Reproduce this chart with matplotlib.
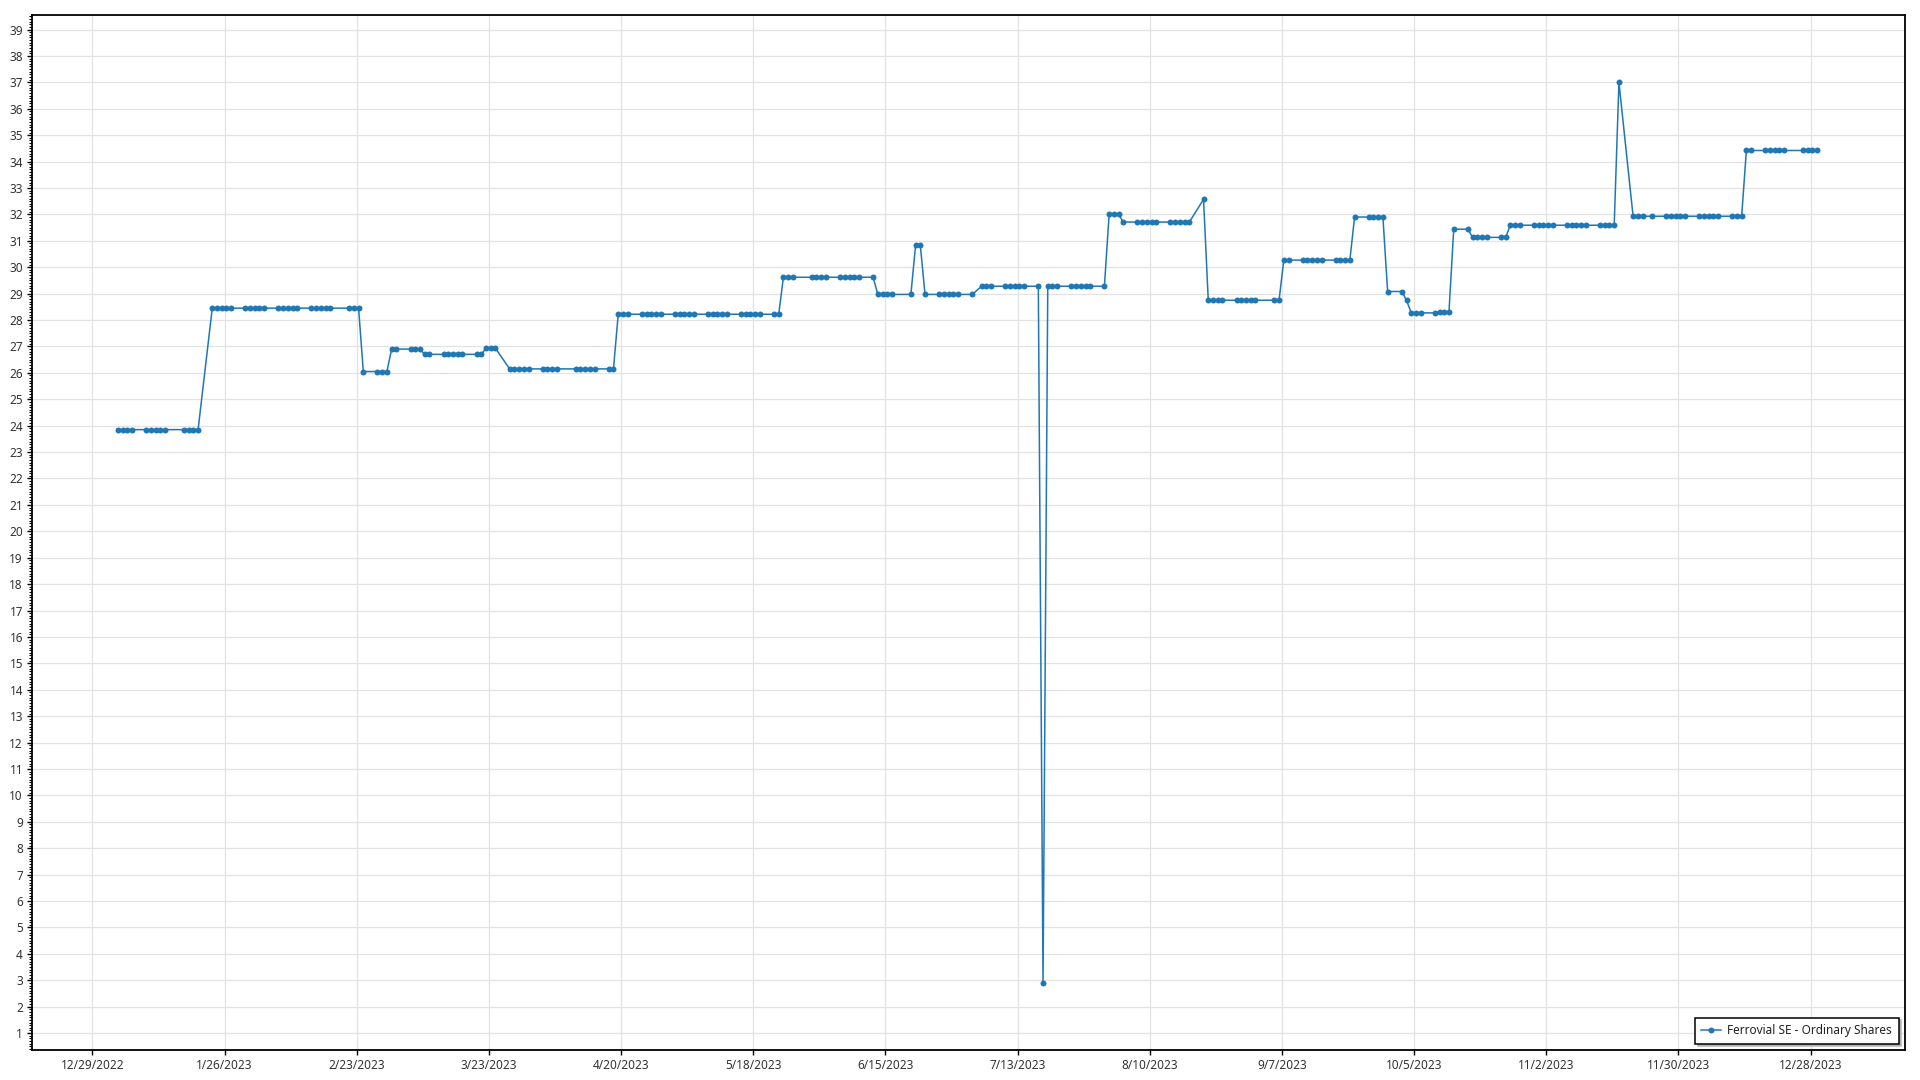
import matplotlib
matplotlib.use("Agg")
import matplotlib.pyplot as plt
from matplotlib.ticker import MultipleLocator
import pandas as pd

# ---------------- data (2023 trading days) ----------------
series_name = "Ferrovial SE - Ordinary Shares"
year = 2023

days_jan = [3, 4, 5, 6, 9, 10, 11, 12, 13, 17, 18, 19, 20, 23, 24, 25, 26, 27, 30, 31]
vals_jan = [23.85, 23.85, 23.85, 23.85, 23.85, 23.85, 23.85, 23.85, 23.85, 23.85, 23.85, 23.85, 23.85,
            28.45, 28.45, 28.45, 28.45, 28.45, 28.45, 28.45]

days_feb = [1, 2, 3, 6, 7, 8, 9, 10, 13, 14, 15, 16, 17, 21, 22, 23, 24, 27, 28]
vals_feb = [28.45, 28.45, 28.45, 28.45, 28.45, 28.45, 28.45, 28.45, 28.45, 28.45, 28.45, 28.45, 28.45,
            28.45, 28.45, 28.45, 26.05, 26.05, 26.05]

days_mar = [1, 2, 3, 6, 7, 8, 9, 10, 13, 14, 15, 16, 17, 20, 21, 22, 23, 24, 27, 28, 29, 30, 31]
vals_mar = [26.05, 26.90, 26.90, 26.90, 26.90, 26.90, 26.70, 26.70, 26.70, 26.70, 26.70, 26.70, 26.70,
            26.70, 26.70, 26.93, 26.93, 26.93, 26.15, 26.15, 26.15, 26.15, 26.15]

days_apr = [3, 4, 5, 6, 10, 11, 12, 13, 14, 17, 18, 19, 20, 21, 24, 25, 26, 27, 28]
vals_apr = [26.15, 26.15, 26.15, 26.15, 26.15, 26.15, 26.15, 26.15, 26.15, 26.15, 26.15,
            28.22, 28.22, 28.22, 28.22, 28.22, 28.22, 28.22, 28.22]

days_may = [1, 2, 3, 4, 5, 8, 9, 10, 11, 12, 15, 16, 17, 18, 19, 22, 23, 24, 25, 26, 30, 31]
vals_may = [28.22, 28.22, 28.22, 28.22, 28.22, 28.22, 28.22, 28.22, 28.22, 28.22, 28.22, 28.22, 28.22,
            28.22, 28.22, 28.22, 28.22, 29.62, 29.62, 29.62, 29.62, 29.62]

days_jun = [1, 2, 5, 6, 7, 8, 9, 12, 13, 14, 15, 16, 20, 21, 22, 23, 26, 27, 28, 29, 30]
vals_jun = [29.62, 29.62, 29.62, 29.62, 29.62, 29.62, 29.62, 29.62, 28.97, 28.97, 28.97, 28.97, 28.97,
            30.83, 30.83, 28.97, 28.97, 28.97, 28.97, 28.97, 28.97]

days_jul = [3, 5, 6, 7, 10, 11, 12, 13, 14, 17, 18, 19, 20, 21, 24, 25, 26, 27, 28, 31]
vals_jul = [28.97, 29.28, 29.28, 29.28, 29.28, 29.28, 29.28, 29.28, 29.28, 29.28, 2.91,
            29.28, 29.28, 29.28, 29.28, 29.28, 29.28, 29.28, 29.28, 29.28]

days_aug = [1, 2, 3, 4, 7, 8, 9, 10, 11, 14, 15, 16, 17, 18, 21, 22, 23, 24, 25, 28, 29, 30, 31]
vals_aug = [32.00, 32.00, 32.00, 31.71, 31.71, 31.71, 31.71, 31.71, 31.71, 31.71, 31.71, 31.71, 31.71,
            31.71, 32.57, 28.75, 28.75, 28.75, 28.75, 28.75, 28.75, 28.75, 28.75]

days_sep = [1, 5, 6, 7, 8, 11, 12, 13, 14, 15, 18, 19, 20, 21, 22, 25, 26, 27, 28, 29]
vals_sep = [28.75, 28.75, 28.75, 30.27, 30.27, 30.27, 30.27, 30.27, 30.27, 30.27, 30.27, 30.27, 30.27,
            30.27, 31.90, 31.90, 31.90, 31.90, 31.90, 29.08]

days_oct = [2, 3, 4, 5, 6, 9, 10, 11, 12, 13, 16, 17, 18, 19, 20, 23, 24, 25, 26, 27, 30, 31]
vals_oct = [29.08, 28.75, 28.27, 28.27, 28.27, 28.27, 28.31, 28.31, 28.31, 31.44, 31.44, 31.13, 31.13,
            31.13, 31.13, 31.13, 31.13, 31.59, 31.59, 31.59, 31.59, 31.59]

days_nov = [1, 2, 3, 6, 7, 8, 9, 10, 13, 14, 15, 16, 17, 20, 21, 22, 24, 27, 28, 29, 30]
vals_nov = [31.59, 31.59, 31.59, 31.59, 31.59, 31.59, 31.59, 31.59, 31.59, 31.59, 31.59, 31.59, 37.00,
            31.93, 31.93, 31.93, 31.93, 31.93, 31.93, 31.93, 31.93]

days_dec = [1, 4, 5, 6, 7, 8, 11, 12, 13, 14, 15, 18, 19, 20, 21, 22, 26, 27, 28, 29]
vals_dec = [31.93, 31.93, 31.93, 31.93, 31.93, 31.93, 31.93, 31.93, 31.93, 34.42, 34.42, 34.42, 34.42,
            34.42, 34.42, 34.42, 34.42, 34.42, 34.42, 34.42]

x_tick_labels = ["12/29/2022", "1/26/2023", "2/23/2023", "3/23/2023", "4/20/2023", "5/18/2023",
                 "6/15/2023", "7/13/2023", "8/10/2023", "9/7/2023", "10/5/2023", "11/2/2023",
                 "11/30/2023", "12/28/2023"]
y_ticks = list(range(1, 40))

# ---------------- assemble ----------------
month_days = [days_jan, days_feb, days_mar, days_apr, days_may, days_jun,
              days_jul, days_aug, days_sep, days_oct, days_nov, days_dec]
month_vals = [vals_jan, vals_feb, vals_mar, vals_apr, vals_may, vals_jun,
              vals_jul, vals_aug, vals_sep, vals_oct, vals_nov, vals_dec]
dates, values = [], []
for m, (ds, vs) in enumerate(zip(month_days, month_vals), start=1):
    assert len(ds) == len(vs), (m, len(ds), len(vs))
    for d, v in zip(ds, vs):
        # quotes timestamped at market open
        dates.append(pd.Timestamp(year, m, d, 9, 30))
        values.append(v)

# ---------------- plot ----------------
plt.rcParams['font.family'] = ['Noto Sans', 'DejaVu Sans']
fig = plt.figure(figsize=(19.2, 10.8), dpi=100)
ax = fig.add_axes([32 / 1920, 1 - 1050 / 1080, (1905 - 32) / 1920, (1050 - 15) / 1080])

blue = '#1f77b4'
ax.plot(dates, values, color=blue, linewidth=1.1, marker='o', markersize=4.3,
        markeredgewidth=0, label=series_name, zorder=3)

ax.set_xlim(pd.Timestamp("2022-12-16 05:00"), pd.Timestamp("2024-01-17 00:00"))
ax.set_ylim(0.36, 39.55)

tick_dates = [pd.to_datetime(t, format="%m/%d/%Y") for t in x_tick_labels]
ax.set_xticks(tick_dates)
ax.set_xticklabels(x_tick_labels)
ax.set_yticks(y_ticks)
ax.set_yticklabels([str(v) for v in y_ticks])
ax.yaxis.set_minor_locator(MultipleLocator(0.1))

ax.tick_params(axis='both', which='major', labelsize=8.5, labelcolor='#333333',
               length=3.5, width=1, color='black', pad=3)
ax.tick_params(axis='y', which='minor', length=2, width=0.8, color='black')
ax.tick_params(axis='x', which='minor', length=0)

ax.grid(True, which='major', color='#e3e3e3', linewidth=0.9, zorder=0)
ax.set_axisbelow(True)
for s in ax.spines.values():
    s.set_color('black')
    s.set_linewidth(1.3)

leg = ax.legend(loc='lower right', fontsize=8.5, frameon=True, fancybox=False,
                edgecolor='black', framealpha=1, handlelength=1.7, handletextpad=0.5,
                borderpad=0.55, borderaxespad=0.55,
                shadow={'color': '#b4b4b4', 'ox': 2, 'oy': -2, 'alpha': 1})
leg.get_frame().set_linewidth(1.1)
for t in leg.get_texts():
    t.set_color('#222222')

fig.savefig("out.png", dpi=100)
